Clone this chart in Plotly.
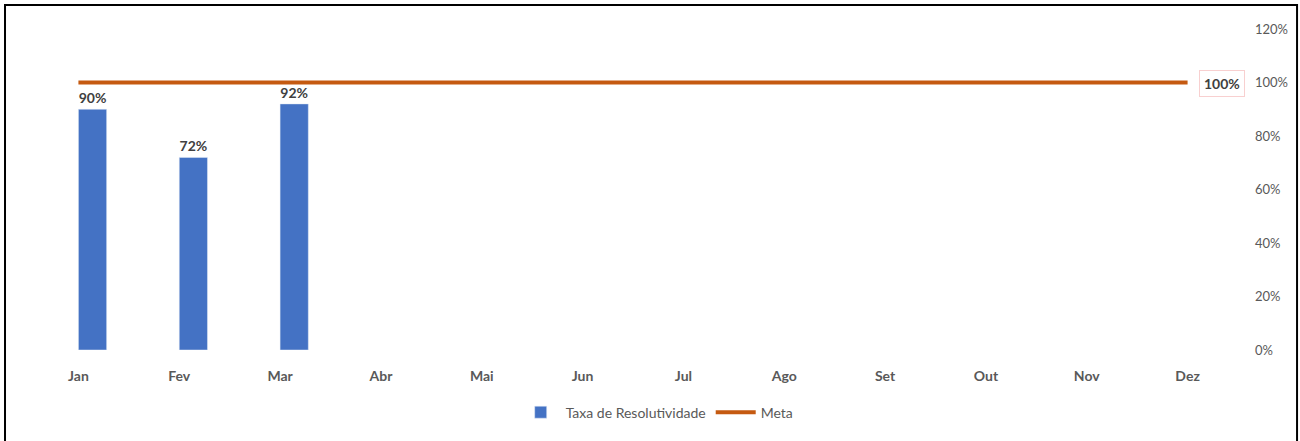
import plotly.graph_objects as go

months = ["Jan", "Fev", "Mar", "Abr", "Mai", "Jun", "Jul", "Ago", "Set", "Out", "Nov", "Dez"]
taxa = [0.90, 0.72, 0.92, None, None, None, None, None, None, None, None, None]
meta = [1.0] * 12
y_ticks = [0, 0.2, 0.4, 0.6, 0.8, 1.0, 1.2]

FONT = "Lato, Open Sans, sans-serif"

fig = go.Figure()
fig.add_trace(go.Bar(
    x=months, y=taxa, name="Taxa de Resolutividade",
    marker=dict(color="#4472C4"), width=0.28, offset=0,
    text=[f"{v:.0%}" if v is not None else "" for v in taxa],
    textposition="outside", cliponaxis=False,
    textfont=dict(family=FONT, size=14, color="#404040", weight="bold"),
))
fig.add_trace(go.Scatter(
    x=months, y=meta, name="Meta", mode="lines",
    line=dict(color="#C55A11", width=4),
))
fig.add_annotation(
    x=months[-1], y=meta[-1], text=f"<b>{meta[-1]:.0%}</b>",
    xanchor="left", xshift=11, yshift=-1, showarrow=False,
    font=dict(family=FONT, size=14, color="#404040"),
    bgcolor="white", bordercolor="#F8D0D0", borderwidth=1, borderpad=4,
)
fig.add_shape(type="rect", xref="paper", yref="paper",
              x0=-0.019, x1=1.0488, y0=-0.3, y1=1.0748,
              line=dict(color="black", width=2), layer="above")

fig.update_layout(
    width=1300, height=441,
    margin=dict(l=28, r=62, t=29, b=91),
    paper_bgcolor="white", plot_bgcolor="white",
    font=dict(family=FONT, size=13, color="#595959"),
    showlegend=True,
    legend=dict(orientation="h", x=0.52, xanchor="center", y=-0.195, yanchor="middle",
                itemwidth=40,
                font=dict(family=FONT, size=14, color="#595959")),
    xaxis=dict(showgrid=False, showline=False, zeroline=False, ticks="",
               range=[-0.5, 11.5], autorange=False,
               ticklabelstandoff=16,
               tickfont=dict(family=FONT, size=14, color="#595959", weight="bold")),
    yaxis=dict(side="right", range=[0, 1.2], tickvals=y_ticks, tickformat=".0%",
               showgrid=False, zeroline=False, showline=False, ticks="",
               ticklabelstandoff=16,
               tickfont=dict(family=FONT, size=13, color="#595959")),
)
fig.write_html("out.html", config={"displayModeBar": False},
               post_script="document.body.style.margin='0';")
